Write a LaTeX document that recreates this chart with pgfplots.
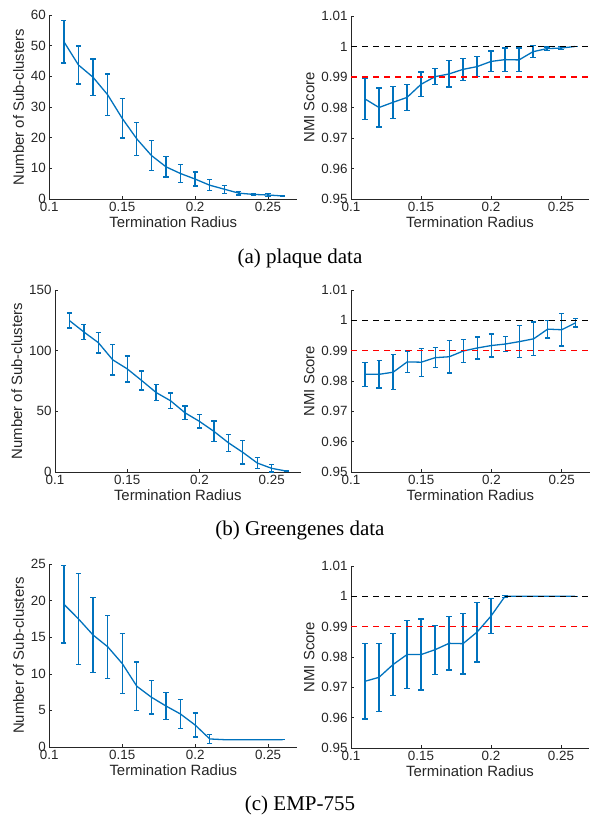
\documentclass[border=0pt]{standalone}
\usepackage{fontspec}
\setmainfont{Liberation Sans}
\newfontfamily\capfont{Liberation Serif}
\usepackage{pgfplots}
\usepackage{pgfplotstable}
\pgfplotsset{compat=1.18}
\definecolor{mblue}{HTML}{0072BD}
\definecolor{axgray}{HTML}{262626}

% x, mean, error (half width)
\pgfplotstableread{
x y e
0.11 51.3 7.0
0.12 43.7 6.2
0.13 39.7 6.0
0.14 34.0 6.8
0.15 26.3 6.4
0.16 19.6 5.4
0.17 14.2 4.9
0.18 10.5 3.3
0.19 8.3 3.0
0.20 6.5 2.3
0.21 4.5 1.8
0.22 3.2 1.3
0.23 1.9 0.6
0.24 1.5 0.4
0.25 1.3 0.4
0.26 1.0 0.0
}\plaqueN
\pgfplotstableread{
x y e
0.11 0.9828 0.0067
0.12 0.9800 0.0064
0.13 0.9817 0.0053
0.14 0.9833 0.0042
0.15 0.9876 0.0040
0.16 0.9901 0.0026
0.17 0.9910 0.0043
0.18 0.9925 0.0036
0.19 0.9934 0.0033
0.20 0.9951 0.0034
0.21 0.9957 0.0038
0.22 0.9956 0.0039
0.23 0.9983 0.0020
0.24 0.9993 0.0005
0.25 0.9995 0.0004
0.26 1.0000 0.0000
}\plaqueS
\pgfplotstableread{
x y e
0.11 124.8 6.2
0.12 115.4 6.4
0.13 106.6 8.5
0.14 92.4 12.5
0.15 85.0 10.7
0.16 75.4 7.8
0.17 65.5 6.8
0.18 58.7 6.5
0.19 48.8 5.5
0.20 41.7 5.5
0.21 33.5 8.5
0.22 24.1 7.0
0.23 16.2 9.6
0.24 7.4 4.5
0.25 3.0 3.0
0.26 0.8 0.5
}\greenN
\pgfplotstableread{
x y e
0.11 0.9822 0.0040
0.12 0.9822 0.0045
0.13 0.9829 0.0058
0.14 0.9863 0.0036
0.15 0.9862 0.0046
0.16 0.9877 0.0033
0.17 0.9880 0.0054
0.18 0.9899 0.0037
0.19 0.9909 0.0036
0.20 0.9917 0.0038
0.21 0.9922 0.0024
0.22 0.9930 0.0052
0.23 0.9939 0.0056
0.24 0.9971 0.0029
0.25 0.9969 0.0054
0.26 0.9992 0.0014
}\greenS
\pgfplotstableread{
x y e
0.11 19.5 5.3
0.12 17.5 6.2
0.13 15.3 5.1
0.14 13.7 4.3
0.15 11.4 4.1
0.16 8.3 3.3
0.17 6.8 2.3
0.18 5.6 1.8
0.19 4.5 2.0
0.20 3.0 1.65
0.21 1.1 0.6
0.22 1.0 0.0
0.23 1.0 0.0
0.24 1.0 0.0
0.25 1.0 0.0
0.26 1.0 0.0
}\empN
\pgfplotstableread{
x y e
0.11 0.9720 0.0124
0.12 0.9733 0.0112
0.13 0.9775 0.0102
0.14 0.9808 0.0112
0.15 0.9808 0.0117
0.16 0.9824 0.0081
0.17 0.9845 0.0088
0.18 0.9844 0.0100
0.19 0.9882 0.0098
0.20 0.9935 0.0058
0.21 1.0000 0.0003
0.22 1.0000 0.0000
0.23 1.0000 0.0000
0.24 1.0000 0.0000
0.25 1.0000 0.0000
0.26 1.0000 0.0000
}\empS

\pgfplotsset{
  mat/.style={scale only axis, anchor=south west, clip=false,
    xmin=0.1, xmax=0.27, xtick={0.1,0.15,0.2,0.25},
    axis x line*=bottom, axis y line*=left,
    axis line style={draw=axgray, line width=0.6pt, -},
    tick align=inside, major tick length=3pt,
    tick style={draw=axgray, line width=0.6pt},
    tick label style={font=\fontsize{13.4}{15}\selectfont, text=axgray},
    label style={font=\fontsize{14.9}{17}\selectfont, text=axgray},
    /pgf/number format/assume math mode=true,
    xticklabel style={/pgf/number format/.cd, fixed, precision=2},
    yticklabel style={/pgf/number format/.cd, fixed, precision=2},
    xlabel={Termination Radius}, xlabel style={yshift=2pt}},
  nmi/.style={mat, ymin=0.95, ymax=1.01,
    ytick={0.95,0.96,0.97,0.98,0.99,1,1.01}, ylabel={NMI Score}},
  sub/.style={mat, ymin=0, ylabel={Number of Sub-clusters}},
  eb/.style={mblue, line width=1.3pt, mark=none,
    error bars/.cd, y dir=both, y explicit,
    error bar style={line width=1.3pt, mblue},
    error mark options={rotate=90, mark size=2.6pt, line width=1.3pt, mblue}}
}

\begin{document}
\begin{tikzpicture}
\path[use as bounding box] (0pt,0pt) rectangle (591pt,-818pt);

% (a) plaque
\begin{axis}[sub, at={(49.3pt,-199pt)}, width=247.9pt, height=184pt, ymax=60,
  ytick={0,10,20,30,40,50,60}]
\addplot+[eb] table[x=x,y=y,y error=e] {\plaqueN};
\end{axis}
\begin{axis}[nmi, at={(351pt,-199pt)}, width=238pt, height=183pt]
\addplot+[eb] table[x=x,y=y,y error=e] {\plaqueS};
\addplot[black, line width=1.3pt, dash pattern=on 6pt off 5pt] coordinates {(0.1,1) (0.27,1)};
\addplot[red, line width=1.3pt, dash pattern=on 6pt off 5pt] coordinates {(0.1,0.99) (0.27,0.99)};
\end{axis}
\node[font=\capfont\fontsize{21}{24}\selectfont, text=black] at (300pt,-258pt) {(a) plaque data};

% (b) Greengenes
\begin{axis}[sub, at={(55pt,-472pt)}, width=245.6pt, height=182pt, ymax=150,
  ytick={0,50,100,150}]
\addplot+[eb] table[x=x,y=y,y error=e] {\greenN};
\end{axis}
\begin{axis}[nmi, at={(351pt,-472pt)}, width=238.8pt, height=182pt]
\addplot+[eb] table[x=x,y=y,y error=e] {\greenS};
\addplot[black, line width=1.3pt, dash pattern=on 6pt off 5pt] coordinates {(0.1,1) (0.27,1)};
\addplot[red, line width=1.3pt, dash pattern=on 6pt off 5pt] coordinates {(0.1,0.99) (0.27,0.99)};
\end{axis}
\node[font=\capfont\fontsize{21}{24}\selectfont, text=black] at (300pt,-530pt) {(b) Greengenes data};

% (c) EMP-755
\begin{axis}[sub, at={(49.3pt,-747pt)}, width=248pt, height=183pt, ymax=25,
  ytick={0,5,10,15,20,25}]
\addplot+[eb] table[x=x,y=y,y error=e] {\empN};
\end{axis}
\begin{axis}[nmi, at={(351pt,-748pt)}, width=238pt, height=182pt]
\addplot+[eb] table[x=x,y=y,y error=e] {\empS};
\addplot[black, line width=1.3pt, dash pattern=on 6pt off 5pt] coordinates {(0.1,1) (0.27,1)};
\addplot[red, line width=1.3pt, dash pattern=on 6pt off 5pt] coordinates {(0.1,0.99) (0.27,0.99)};
\end{axis}
\node[font=\capfont\fontsize{21}{24}\selectfont, text=black] at (300pt,-805pt) {(c) EMP-755};
\end{tikzpicture}
\end{document}
